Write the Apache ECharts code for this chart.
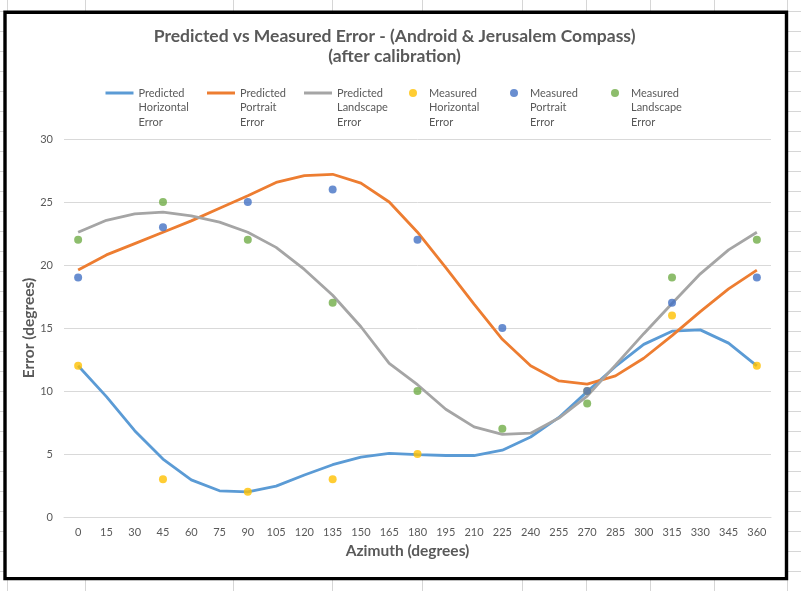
<!DOCTYPE html>
<html>
<head>
<meta charset="utf-8">
<script src="https://cdn.jsdelivr.net/npm/echarts@6/dist/echarts.min.js"></script>
<style>
html,body{margin:0;padding:0;background:#fff;}
#chart{width:801px;height:591px;}
</style>
</head>
<body>
<div id="chart"></div>
<script>
// ---- data ----
var azimuth = ['0','15','30','45','60','75','90','105','120','135','150','165','180','195','210','225','240','255','270','285','300','315','330','345','360'];
var predictedHorizontal = [12.0,9.55,6.85,4.6,2.95,2.08,2.0,2.45,3.33,4.15,4.75,5.05,4.95,4.88,4.88,5.3,6.35,7.9,9.95,11.95,13.7,14.75,14.85,13.8,12.0];
var predictedPortrait = [19.6,20.8,21.7,22.6,23.5,24.5,25.5,26.55,27.1,27.2,26.5,25.0,22.6,19.8,16.9,14.1,12.0,10.8,10.55,11.2,12.6,14.4,16.3,18.1,19.6];
var predictedLandscape = [22.6,23.55,24.05,24.2,23.9,23.4,22.6,21.4,19.65,17.6,15.1,12.2,10.5,8.55,7.15,6.55,6.65,7.85,9.6,12.05,14.55,16.95,19.3,21.2,22.6];
var measuredHorizontal = [12,null,null,3,null,null,2,null,null,3,null,null,5,null,null,null,null,null,10,null,null,16,null,null,12];
var measuredPortrait = [19,null,null,23,null,null,25,null,null,26,null,null,22,null,null,15,null,null,10,null,null,17,null,null,19];
var measuredLandscape = [22,null,null,25,null,null,22,null,null,17,null,null,10,null,null,7,null,null,9,null,null,19,null,null,22];
var seriesNames = ['Predicted\nHorizontal\nError','Predicted\nPortrait\nError','Predicted\nLandscape\nError','Measured\nHorizontal\nError','Measured\nPortrait\nError','Measured\nLandscape\nError'];

// ---- spreadsheet backdrop ----
var sheetCols = [7, 85, 233, 332, 422, 522, 586, 650, 714, 787];
var sheetRows = [];
for (var r = 11.5; r < 600; r += 20) sheetRows.push(r);

var FONT = 'Lato, "Liberation Sans", sans-serif';
var TXT = '#595959';
var graphics = [{type:'rect', shape:{x:0,y:0,width:801,height:591}, style:{fill:'#ffffff'}, z:-30, silent:true}];
sheetCols.forEach(function(x){
  graphics.push({type:'line', shape:{x1:x+0.5,y1:0,x2:x+0.5,y2:591}, style:{stroke:'#d6d6d6',lineWidth:1}, z:-20, silent:true});
});
sheetRows.forEach(function(y){
  graphics.push({type:'line', shape:{x1:0,y1:y,x2:801,y2:y}, style:{stroke:'#d6d6d6',lineWidth:1}, z:-20, silent:true});
});
graphics.push({type:'rect', shape:{x:5,y:12.3,width:781.5,height:566.3}, style:{fill:'#ffffff',stroke:'#000000',lineWidth:3.4}, z:-10, silent:true});

var colors = ['#5B9BD5','#ED7D31','#A5A5A5','#FFC000','#4472C4','#70AD47'];

function mkLegend(i, left, isLine){
  return {
    left: left, top: 56.75, padding: 0,
    data: [seriesNames[i]],
    itemWidth: isLine ? 28 : 22,
    itemHeight: isLine ? 3 : 8,
    icon: isLine ? 'rect' : 'circle',
    selectedMode: false,
    formatter: function(name){ return ' \n \n' + name; },
    textStyle: {color: TXT, fontFamily: FONT, fontSize: 11, lineHeight: 14.5}
  };
}

var option = {
  animation: false,
  color: colors,
  graphic: graphics,
  title: {
    text: 'Predicted vs Measured Error - (Android & Jerusalem Compass)\n(after calibration)',
    left: 389.6, top: 21, textAlign: 'center',
    textStyle: {color: TXT, fontFamily: FONT, fontSize: 17.5, fontWeight: 'bold', lineHeight: 20}
  },
  legend: [
    mkLegend(0, 105.5, true),
    mkLegend(1, 207, true),
    mkLegend(2, 304, true),
    mkLegend(3, 409, false),
    mkLegend(4, 510, false),
    mkLegend(5, 611, false)
  ],
  grid: {left: 64, right: 30, top: 139, bottom: 74},
  xAxis: {
    type: 'category', data: azimuth, boundaryGap: true,
    name: 'Azimuth (degrees)', nameLocation: 'middle', nameGap: 26, nameMoveOverlap: false,
    nameTextStyle: {color: TXT, fontFamily: FONT, fontSize: 15.5, fontWeight: 'bold', padding: [0, 20, 0, 0]},
    axisLine: {lineStyle: {color: '#d9d9d9'}},
    axisTick: {show: false},
    axisLabel: {interval: 0, color: TXT, fontFamily: FONT, fontSize: 11, margin: 10}
  },
  yAxis: {
    type: 'value', min: 0, max: 30, interval: 5,
    name: 'Error (degrees)', nameLocation: 'middle', nameGap: 27, nameMoveOverlap: false,
    nameTextStyle: {color: TXT, fontFamily: FONT, fontSize: 15.5, fontWeight: 'bold'},
    axisLine: {show: false}, axisTick: {show: false},
    splitLine: {lineStyle: {color: '#d9d9d9'}},
    axisLabel: {color: TXT, fontFamily: FONT, fontSize: 11, margin: 11}
  },
  series: [
    {name: seriesNames[0], type: 'line', data: predictedHorizontal, symbol: 'none', lineStyle: {width: 2.8, color: colors[0]}, z: 2},
    {name: seriesNames[1], type: 'line', data: predictedPortrait, symbol: 'none', lineStyle: {width: 2.8, color: colors[1]}, z: 2},
    {name: seriesNames[2], type: 'line', data: predictedLandscape, symbol: 'none', lineStyle: {width: 2.8, color: colors[2]}, z: 2},
    {name: seriesNames[3], type: 'scatter', data: measuredHorizontal, symbol: 'circle', symbolSize: 8, itemStyle: {color: colors[3]}, z: 3},
    {name: seriesNames[4], type: 'scatter', data: measuredPortrait, symbol: 'circle', symbolSize: 8, itemStyle: {color: colors[4]}, z: 3},
    {name: seriesNames[5], type: 'scatter', data: measuredLandscape, symbol: 'circle', symbolSize: 8, itemStyle: {color: colors[5]}, z: 3}
  ]
};
var chart = echarts.init(document.getElementById('chart'), null, {renderer: 'canvas'});
chart.setOption(option);
</script>
</body>
</html>
